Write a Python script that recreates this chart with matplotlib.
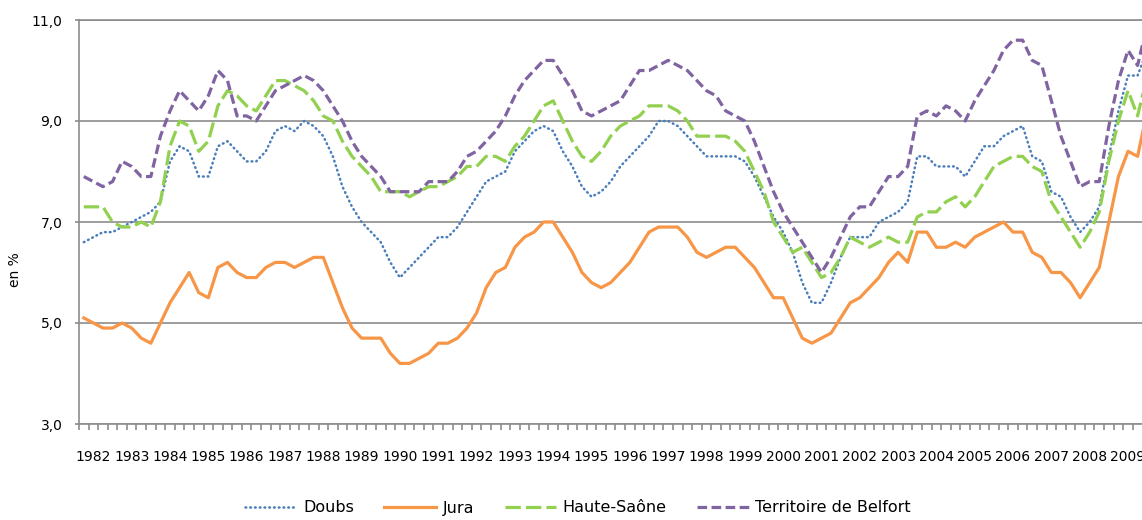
import numpy as np
import matplotlib.pyplot as plt
from matplotlib.ticker import FuncFormatter

# Taux de chômage trimestriel (en %), T1 1982 -> 2009
years = list(range(1982, 2010))

doubs = [6.6, 6.7, 6.8, 6.8, 6.9, 7.0, 7.1, 7.2, 7.4, 8.2, 8.5, 8.4, 7.9, 7.9, 8.5, 8.6,
         8.4, 8.2, 8.2, 8.4, 8.8, 8.9, 8.8, 9.0, 8.9, 8.7, 8.3, 7.7, 7.3, 7.0, 6.8, 6.6,
         6.2, 5.9, 6.1, 6.3, 6.5, 6.7, 6.7, 6.9, 7.2, 7.5, 7.8, 7.9, 8.0, 8.4, 8.6, 8.8,
         8.9, 8.8, 8.4, 8.1, 7.7, 7.5, 7.6, 7.8, 8.1, 8.3, 8.5, 8.7, 9.0, 9.0, 8.9, 8.7,
         8.5, 8.3, 8.3, 8.3, 8.3, 8.2, 7.9, 7.5, 7.1, 6.8, 6.4, 5.8, 5.4, 5.4, 5.8, 6.3,
         6.7, 6.7, 6.7, 7.0, 7.1, 7.2, 7.4, 8.3, 8.3, 8.1, 8.1, 8.1, 7.9, 8.2, 8.5, 8.5,
         8.7, 8.8, 8.9, 8.3, 8.2, 7.6, 7.5, 7.1, 6.8, 7.0, 7.3, 8.3, 9.2, 9.9, 9.9, 10.4]

jura = [5.1, 5.0, 4.9, 4.9, 5.0, 4.9, 4.7, 4.6, 5.0, 5.4, 5.7, 6.0, 5.6, 5.5, 6.1, 6.2,
        6.0, 5.9, 5.9, 6.1, 6.2, 6.2, 6.1, 6.2, 6.3, 6.3, 5.8, 5.3, 4.9, 4.7, 4.7, 4.7,
        4.4, 4.2, 4.2, 4.3, 4.4, 4.6, 4.6, 4.7, 4.9, 5.2, 5.7, 6.0, 6.1, 6.5, 6.7, 6.8,
        7.0, 7.0, 6.7, 6.4, 6.0, 5.8, 5.7, 5.8, 6.0, 6.2, 6.5, 6.8, 6.9, 6.9, 6.9, 6.7,
        6.4, 6.3, 6.4, 6.5, 6.5, 6.3, 6.1, 5.8, 5.5, 5.5, 5.1, 4.7, 4.6, 4.7, 4.8, 5.1,
        5.4, 5.5, 5.7, 5.9, 6.2, 6.4, 6.2, 6.8, 6.8, 6.5, 6.5, 6.6, 6.5, 6.7, 6.8, 6.9,
        7.0, 6.8, 6.8, 6.4, 6.3, 6.0, 6.0, 5.8, 5.5, 5.8, 6.1, 7.0, 7.9, 8.4, 8.3, 9.2]

haute_saone = [7.3, 7.3, 7.3, 7.0, 6.9, 6.9, 7.0, 6.9, 7.4, 8.5, 9.0, 8.9, 8.4, 8.6, 9.3, 9.6,
               9.5, 9.3, 9.2, 9.5, 9.8, 9.8, 9.7, 9.6, 9.4, 9.1, 9.0, 8.6, 8.3, 8.1, 7.9, 7.6,
               7.6, 7.6, 7.5, 7.6, 7.7, 7.7, 7.8, 7.9, 8.1, 8.1, 8.3, 8.3, 8.2, 8.5, 8.7, 9.0,
               9.3, 9.4, 9.0, 8.6, 8.3, 8.2, 8.4, 8.7, 8.9, 9.0, 9.1, 9.3, 9.3, 9.3, 9.2, 9.0,
               8.7, 8.7, 8.7, 8.7, 8.6, 8.4, 8.0, 7.6, 7.0, 6.7, 6.4, 6.5, 6.2, 5.9, 6.0, 6.3,
               6.7, 6.6, 6.5, 6.6, 6.7, 6.6, 6.6, 7.1, 7.2, 7.2, 7.4, 7.5, 7.3, 7.5, 7.8, 8.1,
               8.2, 8.3, 8.3, 8.1, 8.0, 7.4, 7.1, 6.8, 6.5, 6.8, 7.2, 8.2, 9.0, 9.6, 9.1, 9.9]

belfort = [7.9, 7.8, 7.7, 7.8, 8.2, 8.1, 7.9, 7.9, 8.7, 9.2, 9.6, 9.4, 9.2, 9.5, 10.0, 9.8,
           9.1, 9.1, 9.0, 9.3, 9.6, 9.7, 9.8, 9.9, 9.8, 9.6, 9.3, 9.0, 8.6, 8.3, 8.1, 7.9,
           7.6, 7.6, 7.6, 7.6, 7.8, 7.8, 7.8, 8.0, 8.3, 8.4, 8.6, 8.8, 9.1, 9.5, 9.8, 10.0,
           10.2, 10.2, 9.9, 9.6, 9.2, 9.1, 9.2, 9.3, 9.4, 9.7, 10.0, 10.0, 10.1, 10.2, 10.1, 10.0,
           9.8, 9.6, 9.5, 9.2, 9.1, 9.0, 8.6, 8.1, 7.6, 7.2, 6.9, 6.6, 6.3, 6.0, 6.3, 6.7,
           7.1, 7.3, 7.3, 7.6, 7.9, 7.9, 8.1, 9.1, 9.2, 9.1, 9.3, 9.2, 9.0, 9.4, 9.7, 10.0,
           10.4, 10.6, 10.6, 10.2, 10.1, 9.4, 8.7, 8.2, 7.7, 7.8, 7.8, 8.9, 9.8, 10.4, 10.1, 10.9]

grey = '#8c8c8c'
t = np.arange(len(jura))

fig = plt.figure(figsize=(11.42, 5.2), dpi=100)
ax = fig.add_axes([79 / 1142, 1 - 424 / 520, 1 - 79 / 1142, (424 - 20) / 520])

ax.plot(t, doubs, color='#4a7ebb', lw=1.8, linestyle=(0, (0.3, 1.6)),
        dash_capstyle='round', label='Doubs')
ax.plot(t, jura, color='#f79646', lw=2.3, label='Jura')
ax.plot(t, haute_saone, color='#92d050', lw=2.3, linestyle=(0, (4.8, 1.6)),
        label='Haute-Saône')
ax.plot(t, belfort, color='#8064a2', lw=2.3, linestyle=(0, (3.0, 1.4)),
        label='Territoire de Belfort')

# axe des y
ax.set_yticks([3, 5, 7, 9, 11])
ax.yaxis.set_major_formatter(FuncFormatter(lambda v, p: f'{v:.1f}'.replace('.', ',')))
ax.yaxis.grid(True, color=grey, lw=1.2)
ax.tick_params(axis='y', length=3, color=grey, width=1.2, pad=9, labelsize=10)

# axe des x : un label par année, une graduation par trimestre
ax.set_xticks([1 + 4 * i for i in range(len(years))])
ax.set_xticklabels([str(y) for y in years])
ax.set_xticks(np.arange(-0.5, len(jura) + 0.5, 1), minor=True)
ax.tick_params(axis='x', which='major', length=0, pad=19, labelsize=10)
ax.tick_params(axis='x', which='minor', length=4, color=grey, width=1.2)

# limites après les ticks (set_xticks élargit la vue)
ax.set_xlim(-0.5, (1142 - 83.8) / 9.58)
ax.set_ylim(3, 11)

for side in ['left', 'bottom', 'top']:
    ax.spines[side].set_color(grey)
    ax.spines[side].set_linewidth(1.2)
ax.spines['right'].set_visible(False)
ax.set_axisbelow(True)

fig.text(15 / 1142, 1 - 270 / 520, 'en %', rotation=90, ha='center', va='center', fontsize=10)

fig.legend(loc='center', bbox_to_anchor=(578 / 1142, 1 - 508 / 520), ncol=4,
           frameon=False, fontsize=11.5, handlelength=3.25, handletextpad=0.4,
           columnspacing=1.9)

fig.savefig('out.png', dpi=100)
